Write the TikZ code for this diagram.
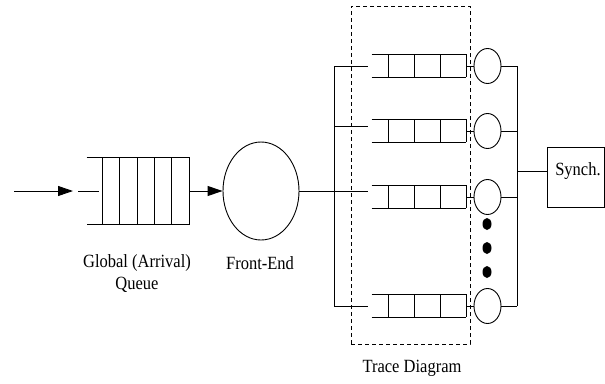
\documentclass[tikz,border=0pt]{standalone}
\usepackage{fontspec}
\setmainfont{Liberation Serif}
\usetikzlibrary{arrows.meta,shapes.geometric,calc}
\newcommand{\tallt}[1]{\scalebox{1}[1.13]{#1}}
\begin{document}
\begin{tikzpicture}[x=1pt,y=-1pt,
  every path/.style={line width=0.9pt},
  ln/.style={draw=black,line width=0.9pt},
  arr/.style={ln,-{Triangle[length=15pt,width=10pt]}},
  qbox/.style={rectangle,draw=none,inner sep=0pt,minimum width=94pt,minimum height=22pt},
  srv/.style={ellipse,draw,inner sep=0pt,minimum width=27pt,minimum height=35pt},
  dotn/.style={ellipse,fill=black,inner sep=0pt,minimum width=9pt,minimum height=12pt},
  lbl/.style={font=\fontsize{16.5}{19}\selectfont,align=center,inner sep=0pt}]
\path[use as bounding box] (0,0) rectangle (605,383);
% global queue
\node[rectangle,draw=none,inner sep=0pt,minimum width=102pt,minimum height=66pt] (gq) at (138,191) {};
\draw[ln] (gq.north west) -- (gq.north east) -- (gq.south east) -- (gq.south west);
\foreach \dx in {16,33,51,68,85} \draw[ln] ($(gq.north west)+(\dx,0)$) -- ($(gq.south west)+(\dx,0)$);
\coordinate (in) at (14,191);
\coordinate (intip) at (73,191);
\draw[arr] (in) -- (intip);
\coordinate (da) at (78,191);
\coordinate (db) at (99,191);
\draw[ln] (da) -- (db);
% front end
\node[ellipse,draw,inner sep=0pt,minimum width=76pt,minimum height=98pt] (fe) at (261,191) {};
\draw[arr] (gq.east) -- (fe.west);
\coordinate (fo) at (368,191);
\draw[ln] (fe.east) -- (fo);
% trace diagram frame
\node[rectangle,draw,dash pattern=on 4pt off 3pt,line width=0.8pt,inner sep=0pt,minimum width=119pt,minimum height=338pt] (frame) at (410.5,175) {};
% trunk
\coordinate (t1) at (334,66);
\coordinate (t2) at (334,126);
\coordinate (t4) at (334,306);
\coordinate (b1) at (368,66);
\coordinate (b2) at (368,126);
\coordinate (b4) at (368,306);
\draw[ln] (t1) -- (t4);
\draw[ln] (t1) -- (b1);
\draw[ln] (t2) -- (b2);
\draw[ln] (t4) -- (b4);
% rows
\foreach \i/\y in {1/66,2/131,3/197,4/306}{
  \node[qbox] (q\i) at (419,\y) {};
  \draw[ln] (q\i.north west) -- (q\i.north east) -- (q\i.south east);
  \draw[ln] (q\i.south west) -- (q\i.south east);
  \foreach \dx in {17,43,69} \draw[ln] ($(q\i.north west)+(\dx,0)$) -- ($(q\i.south west)+(\dx,0)$);
  \node[srv] (c\i) at (487.5,\y) {};
  \draw[ln] (q\i.east) -- (c\i.west);
  \coordinate (r\i) at (517,\y);
  \draw[ln] (c\i.east) -- (r\i);
}
\draw[ln] (r1) -- (r4);
% dots
\node[dotn] (d1) at (487,224) {};
\node[dotn] (d2) at (487,248) {};
\node[dotn] (d3) at (487,272) {};
% synch
\node[rectangle,draw,inner sep=0pt,minimum width=57pt,minimum height=60pt] (sy) at (575.5,177) {};
\coordinate (rs) at (517,171);
\draw[ln] (rs) -- (rs -| sy.west);
\node[lbl] (sylbl) at (578,171) {\tallt{Synch.}};
% labels
\node[lbl] (gql) at (137,263) {\tallt{Global (Arrival)}};
\node[lbl] (gql2) at (137,285) {\tallt{Queue}};
\node[lbl] (fel) at (260,263) {\tallt{Front-End}};
\node[lbl] (tdl) at (412,368) {\tallt{Trace Diagram}};
\end{tikzpicture}
\end{document}
